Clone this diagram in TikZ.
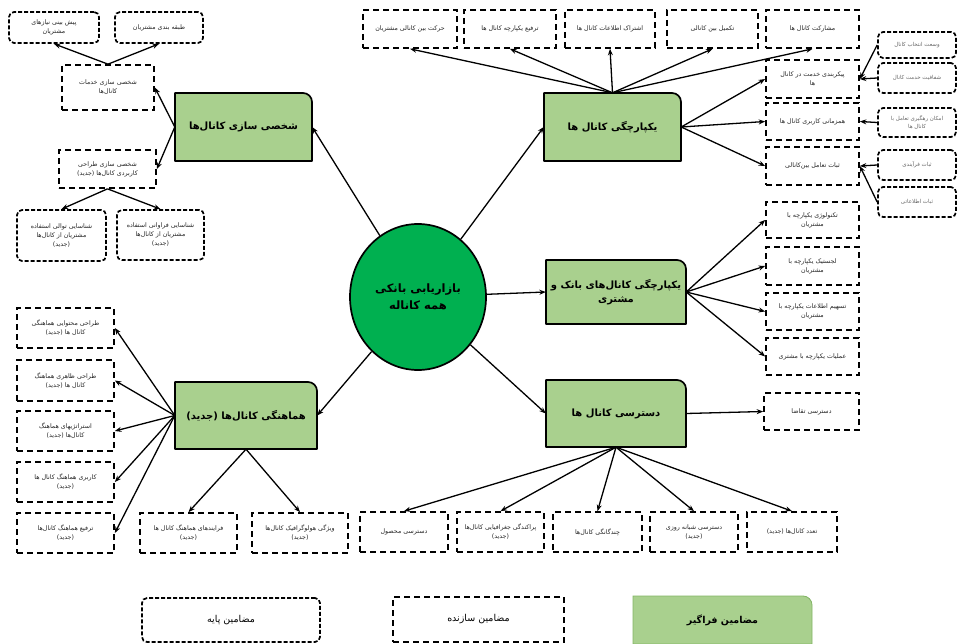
\documentclass[tikz,border=0pt]{standalone}
\usepackage{fontspec}
\newfontfamily\arabicfont[Script=Arabic]{DejaVu Sans}
\TeXXeTstate=1
\usetikzlibrary{arrows.meta,shapes.geometric}
\newcommand\fa[1]{\beginR #1\endR}
\definecolor{gfill}{RGB}{169,208,142}
\definecolor{ellgreen}{RGB}{0,176,80}
\definecolor{lgborder}{RGB}{130,180,100}
\newcommand\gshape[5]{\filldraw[#1] (#2,#5) -- (#2,#3) -- ({#4-9},#3) .. controls ({#4-4},#3) and (#4,{#3+4}) .. (#4,{#3+9}) -- (#4,#5) -- cycle;}
\tikzset{
  sbox/.style={draw=black, line width=1.7pt, dash pattern=on 6pt off 4pt, font=\arabicfont\fontsize{6.3}{9}\selectfont, text=black!85, align=center, inner sep=1pt},
  bbox/.style={sbox, rounded corners=5pt, dash pattern=on 4pt off 2pt},
  fbox/.style={bbox, font=\arabicfont\fontsize{5.5}{8}\selectfont, text=black!60},
  gst/.style={fill=gfill, draw=black, line width=1.7pt, line join=round},
  gtxt/.style={font=\arabicfont\bfseries\fontsize{10}{14}\selectfont, align=center, inner sep=0pt},
  arr/.style={-{Stealth[length=6.5pt,width=5pt]}, line width=1.3pt},
}
\begin{document}
\begin{tikzpicture}[x=1pt,y=-1pt]
\useasboundingbox (0,0) rectangle (957,644);

% ---------- green main boxes ----------
\gshape{gst}{175}{93}{312}{161}
\node[gtxt, minimum width=137pt, minimum height=68pt] (g1) at (243.5,127) {\fa{شخصی سازی کانال‌ها}};
\gshape{gst}{544}{93}{681}{161}
\node[gtxt, minimum width=137pt, minimum height=68pt] (g2) at (612.5,127) {\fa{یکپارچگی کانال ها}};
\gshape{gst}{546}{260}{686}{324}
\node[gtxt, minimum width=140pt, minimum height=64pt] (g3) at (616,292) {\fa{یکپارچگی کانال‌های بانک و}\\\fa{مشتری}};
\gshape{gst}{175}{382}{317}{449}
\node[gtxt, minimum width=142pt, minimum height=67pt] (g4) at (246,415.5) {\fa{هماهنگی کانال‌ها (جدید)}};
\gshape{gst}{546}{380}{686}{447}
\node[gtxt, minimum width=140pt, minimum height=67pt] (g5) at (616,413.5) {\fa{دسترسی کانال ها}};

% ---------- centre ----------
\node[ellipse, draw=black, line width=1.7pt, fill=ellgreen, minimum width=136pt, minimum height=146pt, inner sep=0pt,
      font=\arabicfont\bfseries\fontsize{11.5}{17}\selectfont, align=center] (ell) at (418,297) {\fa{بازاریابی بانکی}\\\fa{همه کاناله}};

% ---------- left top ----------
\node[bbox, minimum width=90pt, minimum height=31pt] (pish) at (54,27.5) {\fa{پیش بینی نیازهای}\\\fa{مشتریان}};
\node[bbox, minimum width=88pt, minimum height=31pt] (tabaq) at (159,27.5) {\fa{طبقه بندی مشتریان}};
\node[sbox, minimum width=92pt, minimum height=45pt] (khad) at (108,87.5) {\fa{شخصی سازی خدمات}\\\fa{کانال‌ها}};
\node[sbox, minimum width=97pt, minimum height=38pt] (tarh) at (107.5,169) {\fa{شخصی سازی طراحی}\\\fa{کاربردی کانال‌ها (جدید)}};
\node[bbox, minimum width=89pt, minimum height=51pt] (tav) at (61.5,235.5) {\fa{شناسایی توالی استفاده}\\\fa{مشتریان از کانال‌ها}\\\fa{(جدید)}};
\node[bbox, minimum width=87pt, minimum height=50pt] (far) at (160.5,235) {\fa{شناسایی فراوانی استفاده}\\\fa{مشتریان از کانال‌ها}\\\fa{(جدید)}};

% ---------- left bottom ----------
\node[sbox, minimum width=97pt, minimum height=40pt] (m1) at (65.5,328) {\fa{طراحی محتوایی هماهنگی}\\\fa{کانال ها (جدید)}};
\node[sbox, minimum width=97pt, minimum height=41pt] (m2) at (65.5,380.5) {\fa{طراحی ظاهری هماهنگ}\\\fa{کانال ها (جدید)}};
\node[sbox, minimum width=97pt, minimum height=40pt] (m3) at (65.5,431) {\fa{استراتژیهای هماهنگ}\\\fa{کانال‌ها (جدید)}};
\node[sbox, minimum width=97pt, minimum height=40pt] (m4) at (65.5,482) {\fa{کاربری هماهنگ کانال ها}\\\fa{(جدید)}};
\node[sbox, minimum width=97pt, minimum height=40pt] (m5) at (65.5,533) {\fa{ترفیع هماهنگ کانال‌ها}\\\fa{(جدید)}};
\node[sbox, minimum width=97pt, minimum height=40pt] (fary) at (188.5,533) {\fa{فرایندهای هماهنگ کانال ها}\\\fa{(جدید)}};
\node[sbox, minimum width=96pt, minimum height=40pt] (holo) at (300,533) {\fa{ویژگی هولوگرافیک کانال‌ها}\\\fa{(جدید)}};

% ---------- top row ----------
\node[sbox, minimum width=94pt, minimum height=38pt] (t1) at (410,29) {\fa{حرکت بین کانالی مشتریان}};
\node[sbox, minimum width=92pt, minimum height=38pt] (t2) at (510,29) {\fa{ترفیع یکپارچه کانال ها}};
\node[sbox, minimum width=90pt, minimum height=38pt] (t3) at (610,29) {\fa{اشتراک اطلاعات کانال ها}};
\node[sbox, minimum width=91pt, minimum height=38pt] (t4) at (712.5,29) {\fa{تکمیل بین کانالی}};
\node[sbox, minimum width=93pt, minimum height=38pt] (t5) at (812.5,29) {\fa{مشارکت کانال ها}};

% ---------- right column ----------
\node[sbox, minimum width=93pt, minimum height=38pt] (r1) at (812.5,79) {\fa{پیکربندی خدمت در کانال}\\\fa{ها}};
\node[sbox, minimum width=93pt, minimum height=37pt] (r2) at (812.5,121.5) {\fa{همزمانی کاربری کانال ها}};
\node[sbox, minimum width=93pt, minimum height=38pt] (r3) at (812.5,166) {\fa{ثبات تعامل بین‌کانالی}};
\node[sbox, minimum width=93pt, minimum height=36pt] (r4) at (812.5,220) {\fa{تکنولوژی یکپارچه با}\\\fa{مشتریان}};
\node[sbox, minimum width=93pt, minimum height=38pt] (r5) at (812.5,266) {\fa{لجستیک یکپارچه با}\\\fa{مشتریان}};
\node[sbox, minimum width=93pt, minimum height=37pt] (r6) at (812.5,311.5) {\fa{تسهیم اطلاعات یکپارچه با}\\\fa{مشتریان}};
\node[sbox, minimum width=93pt, minimum height=37pt] (r7) at (812.5,356.5) {\fa{عملیات یکپارچه با مشتری}};
\node[sbox, minimum width=95pt, minimum height=37pt] (r8) at (811.5,411.5) {\fa{دسترسی تقاضا}};

% ---------- far right ----------
\node[fbox, minimum width=78pt, minimum height=26pt] (f1) at (917,45) {\fa{وسعت انتخاب کانال}};
\node[fbox, minimum width=78pt, minimum height=30pt] (f2) at (917,78) {\fa{شفافیت خدمت کانال}};
\node[fbox, minimum width=78pt, minimum height=29pt] (f3) at (917,122.5) {\fa{امکان رهگیری تعامل با}\\\fa{کانال ها}};
\node[fbox, minimum width=78pt, minimum height=30pt] (f4) at (917,165) {\fa{ثبات فرآیندی}};
\node[fbox, minimum width=78pt, minimum height=30pt] (f5) at (917,202) {\fa{ثبات اطلاعاتی}};

% ---------- bottom row ----------
\node[sbox, minimum width=88pt, minimum height=40pt] (b1) at (404,532) {\fa{دسترسی محصول}};
\node[sbox, minimum width=87pt, minimum height=40pt] (b2) at (500.5,532) {\fa{پراکندگی جغرافیایی کانال‌ها}\\\fa{(جدید)}};
\node[sbox, minimum width=89pt, minimum height=40pt] (b3) at (597.5,532) {\fa{چندگانگی کانال‌ها}};
\node[sbox, minimum width=88pt, minimum height=40pt] (b4) at (694,532) {\fa{دسترسی شبانه روزی}\\\fa{(جدید)}};
\node[sbox, minimum width=90pt, minimum height=40pt] (b5) at (792,532) {\fa{تعدد کانال‌ها (جدید)}};

% ---------- legend ----------
\node[bbox, font=\arabicfont\fontsize{9.5}{12}\selectfont, text=black, minimum width=178pt, minimum height=44pt] (L1) at (231,620) {\fa{مضامین پایه}};
\node[sbox, font=\arabicfont\fontsize{9.5}{12}\selectfont, text=black, minimum width=171pt, minimum height=45pt] (L2) at (478.5,619.5) {\fa{مضامین سازنده}};
\gshape{fill=gfill, draw=lgborder, line width=0.8pt}{633}{596}{812}{644}
\node[gtxt, font=\arabicfont\bfseries\fontsize{9.5}{12}\selectfont, minimum width=179pt, minimum height=48pt] (L3) at (722.5,620) {\fa{مضامین فراگیر}};

% ---------- connectors ----------
\draw[arr] (ell) -- (g1.east);
\draw[arr] (ell) -- (g2.west);
\draw[arr] (ell) -- (g3.west);
\draw[arr] (ell) -- (g5.west);
\draw[arr] (ell) -- (g4.east);

\draw[arr] (g1.west) -- (khad.east);
\draw[arr] (g1.west) -- (tarh.east);
\draw[arr] (khad.north) -- (pish.south);
\draw[arr] (khad.north) -- (tabaq.south);
\draw[arr] (tarh.south) -- (tav.north);
\draw[arr] (tarh.south) -- (far.north);

\foreach \t in {m1,m2,m3,m4,m5} \draw[arr] (g4.west) -- (\t.east);
\draw[arr] (g4.south) -- (fary.north);
\draw[arr] (g4.south) -- (holo.north);

\foreach \t in {t1,t2,t3,t4,t5} \draw[arr] (g2.north) -- (\t.south);
\foreach \t in {r1,r2,r3} \draw[arr] (g2.east) -- (\t.west);
\draw[arr] (f1.west) -- (r1.east);
\draw[arr] (f2.west) -- (r1.east);
\draw[arr] (f3.west) -- (r2.east);
\draw[arr] (f4.west) -- (r3.east);
\draw[arr] (f5.west) -- (r3.east);

\foreach \t in {r4,r5,r6,r7} \draw[arr] (g3.east) -- (\t.west);
\draw[arr] (g5.east) -- (r8.west);
\foreach \t in {b1,b2,b3,b4,b5} \draw[arr] (g5.south) -- (\t.north);
\end{tikzpicture}
\end{document}
